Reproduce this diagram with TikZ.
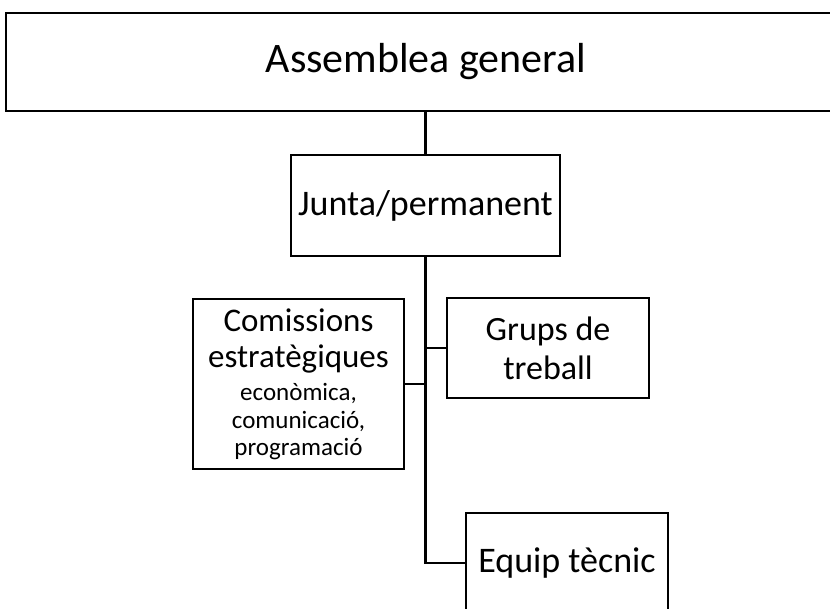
\documentclass[tikz,border=0pt]{standalone}
\usepackage{fontspec}
\setmainfont{Carlito}
\begin{document}
\begin{tikzpicture}[x=1pt,y=-1pt,
  box/.style={draw=black, line width=2.2pt, rectangle, align=center, inner sep=0pt},
  conn/.style={draw=black, line width=2.2pt}]
\useasboundingbox (0,0) rectangle (830,608);
\clip (0,0) rectangle (830,608);
\node[box, minimum width=840pt, minimum height=98pt, font=\fontsize{42}{50}\selectfont] (asm) at (426,62) {Assemblea general};
\node[box, minimum width=269pt, minimum height=101pt, font=\fontsize{36}{43}\selectfont] (jun) at (425.5,205.5) {Junta/permanent};
\node[box, minimum width=211pt, minimum height=170pt, font=\fontsize{33}{36}\selectfont] (com) at (298.5,384)
  {Comissions\\estratègiques\\[-3pt]{\fontsize{25}{27}\selectfont econòmica,}\\[-8pt]{\fontsize{25}{27}\selectfont comunicació,}\\[-9pt]{\fontsize{25}{27}\selectfont programació}};
\node[box, minimum width=202pt, minimum height=100pt, font=\fontsize{34}{39}\selectfont] (grp) at (548,348) {Grups de\\treball};
\node[box, minimum width=202pt, minimum height=100pt, font=\fontsize{36}{43}\selectfont] (eqp) at (567,563) {Equip tècnic};
\draw[conn] (asm.south -| jun.north) -- (jun.north);
\draw[conn] (jun.south) -- (jun.south |- eqp.west) -- (eqp.west);
\draw[conn] (com.east) -- (com.east -| jun.south);
\draw[conn] (grp.west) -- (grp.west -| jun.south);
\end{tikzpicture}
\end{document}
